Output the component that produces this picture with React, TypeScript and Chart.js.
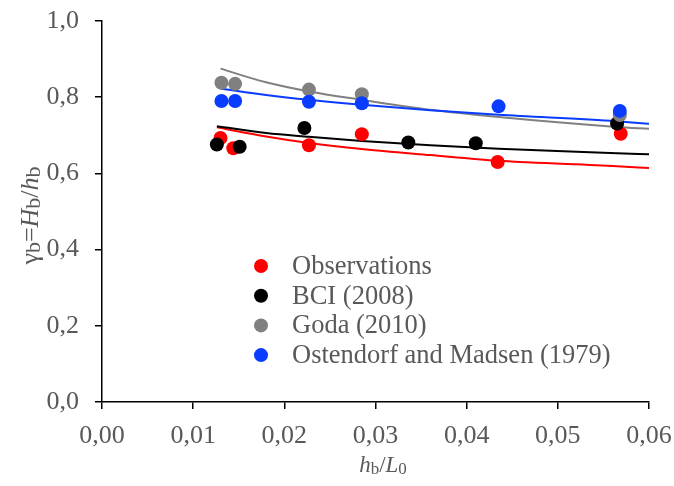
import React, { useEffect, useRef } from "react";
import { Chart, registerables } from "chart.js";

Chart.register(...registerables);

// Measured points
const obsX = [0.0130, 0.0144, 0.0227, 0.0285, 0.0434, 0.0569];
const obsY = [0.693, 0.666, 0.674, 0.703, 0.630, 0.704];

const bciX = [0.0126, 0.0151, 0.0222, 0.0336, 0.0410, 0.0565];
const bciY = [0.676, 0.670, 0.719, 0.681, 0.679, 0.731];

const godaX = [0.0131, 0.0146, 0.0227, 0.0285, 0.0568];
const godaY = [0.838, 0.835, 0.820, 0.808, 0.753];

const omX = [0.0131, 0.0146, 0.0227, 0.0285, 0.0435, 0.0568];
const omY = [0.790, 0.790, 0.788, 0.784, 0.776, 0.764];

// Trend lines
const obsFitX = [0.0126, 0.018, 0.0227, 0.0285, 0.036, 0.0435, 0.0565, 0.06];
const obsFitY = [0.721, 0.697, 0.680, 0.664, 0.648, 0.633, 0.619, 0.614];

const bciFitX = [0.0126, 0.018, 0.0227, 0.0285, 0.036, 0.0435, 0.0565, 0.06];
const bciFitY = [0.724, 0.706, 0.696, 0.685, 0.674, 0.665, 0.653, 0.650];

const godaFitX = [0.013, 0.018, 0.0227, 0.0285, 0.036, 0.0435, 0.0565, 0.06];
const godaFitY = [0.875, 0.839, 0.815, 0.793, 0.767, 0.748, 0.722, 0.717];

const omFitX = [0.013, 0.018, 0.0227, 0.0285, 0.036, 0.0435, 0.0565, 0.06];
const omFitY = [0.823, 0.806, 0.793, 0.780, 0.766, 0.754, 0.737, 0.730];

const seriesLabels = [
  "Observations",
  "BCI (2008)",
  "Goda (2010)",
  "Ostendorf and Madsen (1979)",
];
const seriesColors = ["#ff0000", "#000000", "#808080", "#0a3cff"];

const xTicks = [0, 0.01, 0.02, 0.03, 0.04, 0.05, 0.06];
const yTicks = [0, 0.2, 0.4, 0.6, 0.8, 1.0];

const FONT = '"Liberation Serif", "Times New Roman", serif';
const TEXT_COLOR = "#595959";

type Seg = { t: string; italic?: boolean; sub?: boolean };

function drawRich(
  ctx: CanvasRenderingContext2D,
  segs: Seg[],
  cx: number,
  baseline: number,
  size: number,
  subSize: number,
  subShift: number
) {
  const fontOf = (s: Seg) =>
    `${s.italic ? "italic " : ""}${s.sub ? subSize : size}px ${FONT}`;
  let total = 0;
  const widths = segs.map((s) => {
    ctx.font = fontOf(s);
    const w = ctx.measureText(s.t).width;
    total += w;
    return w;
  });
  let x = cx - total / 2;
  ctx.textAlign = "left";
  ctx.textBaseline = "alphabetic";
  ctx.fillStyle = TEXT_COLOR;
  segs.forEach((s, i) => {
    ctx.font = fontOf(s);
    ctx.fillText(s.t, x, baseline + (s.sub ? subShift : 0));
    x += widths[i];
  });
}

const decorPlugin = {
  id: "decor",
  afterDraw(chart: any) {
    const ctx: CanvasRenderingContext2D = chart.ctx;
    const area = chart.chartArea;
    ctx.save();
    // x title
    drawRich(
      ctx,
      [
        { t: "h", italic: true },
        { t: "b", sub: true },
        { t: "/" },
        { t: "L", italic: true },
        { t: "0", sub: true },
      ],
      383,
      472,
      23,
      17,
      2
    );
    // y title
    ctx.save();
    ctx.translate(38, (area.top + area.bottom) / 2 + 4);
    ctx.rotate(-Math.PI / 2);
    drawRich(
      ctx,
      [
        { t: "γ" },
        { t: "b", sub: true },
        { t: "=" },
        { t: "H", italic: true },
        { t: "b", sub: true },
        { t: "/" },
        { t: "h", italic: true },
        { t: "b", sub: true },
      ],
      0,
      0,
      26,
      22,
      2
    );
    ctx.restore();
    // legend
    const lx = 261;
    const ly0 = 266;
    const dy = 29.7;
    seriesLabels.forEach((label, i) => {
      const y = ly0 + i * dy;
      ctx.beginPath();
      ctx.arc(lx, y, 7, 0, Math.PI * 2);
      ctx.fillStyle = seriesColors[i];
      ctx.fill();
      ctx.font = `26.5px ${FONT}`;
      ctx.fillStyle = TEXT_COLOR;
      ctx.textAlign = "left";
      ctx.textBaseline = "middle";
      ctx.fillText(label, 292, y + 1);
    });
    ctx.restore();
  },
};

const toPts = (xs: number[], ys: number[]) =>
  xs.map((x, i) => ({ x, y: ys[i] }));

export default function App() {
  const ref = useRef<HTMLCanvasElement | null>(null);

  useEffect(() => {
    if (!ref.current) return;
    const pointSets = [
      toPts(obsX, obsY),
      toPts(bciX, bciY),
      toPts(godaX, godaY),
      toPts(omX, omY),
    ];
    const fitSets = [
      toPts(obsFitX, obsFitY),
      toPts(bciFitX, bciFitY),
      toPts(godaFitX, godaFitY),
      toPts(omFitX, omFitY),
    ];
    const datasets: any[] = [];
    fitSets.forEach((d, i) => {
      datasets.push({
        label: seriesLabels[i] + " fit",
        data: d,
        showLine: true,
        borderColor: seriesColors[i],
        borderWidth: 2,
        pointRadius: 0,
        cubicInterpolationMode: "monotone",
        fill: false,
        order: 20 - i,
      });
    });
    pointSets.forEach((d, i) => {
      datasets.push({
        label: seriesLabels[i],
        data: d,
        showLine: false,
        backgroundColor: seriesColors[i],
        borderWidth: 0,
        pointRadius: 7,
        pointHoverRadius: 7,
        order: 10 - i,
      });
    });

    const chart = new Chart(ref.current, {
      type: "scatter",
      data: { datasets },
      options: {
        animation: false,
        responsive: false,
        devicePixelRatio: 1,
        layout: { padding: { top: 21, right: 25, left: 0, bottom: 0 } },
        plugins: {
          legend: { display: false },
          tooltip: { enabled: false },
        },
        scales: {
          x: {
            type: "linear",
            min: 0,
            max: 0.06,
            afterBuildTicks: (scale: any) => {
              scale.ticks = xTicks.map((v) => ({ value: v }));
            },
            afterFit: (scale: any) => {
              scale.height = 84;
              scale.paddingLeft = 0;
              scale.paddingRight = 0;
            },
            ticks: {
              callback: (v: any) => Number(v).toFixed(2).replace(".", ","),
              font: { family: FONT, size: 26 },
              color: TEXT_COLOR,
              padding: 12,
              maxRotation: 0,
              autoSkip: false,
            },
            grid: {
              drawOnChartArea: false,
              drawTicks: true,
              tickLength: 7,
              color: "#000",
              lineWidth: 1.5,
            },
            border: { display: true, color: "#000", width: 1.5 },
          },
          y: {
            type: "linear",
            min: 0,
            max: 1,
            afterBuildTicks: (scale: any) => {
              scale.ticks = yTicks.map((v) => ({ value: v }));
            },
            afterFit: (scale: any) => {
              scale.width = 102;
              scale.paddingTop = 0;
              scale.paddingBottom = 0;
            },
            ticks: {
              callback: (v: any) => Number(v).toFixed(1).replace(".", ","),
              font: { family: FONT, size: 26 },
              color: TEXT_COLOR,
              padding: 16,
              autoSkip: false,
            },
            grid: {
              drawOnChartArea: false,
              drawTicks: true,
              tickLength: 7,
              color: "#000",
              lineWidth: 1.5,
            },
            border: { display: true, color: "#000", width: 1.5 },
          },
        },
      } as any,
      plugins: [decorPlugin],
    });
    return () => chart.destroy();
  }, []);

  return (
    <div
      style={{
        position: "fixed",
        left: 0,
        top: 0,
        width: 674,
        height: 486,
        background: "#fff",
      }}
    >
      <canvas ref={ref} width={674} height={486} style={{ display: "block" }} />
    </div>
  );
}
